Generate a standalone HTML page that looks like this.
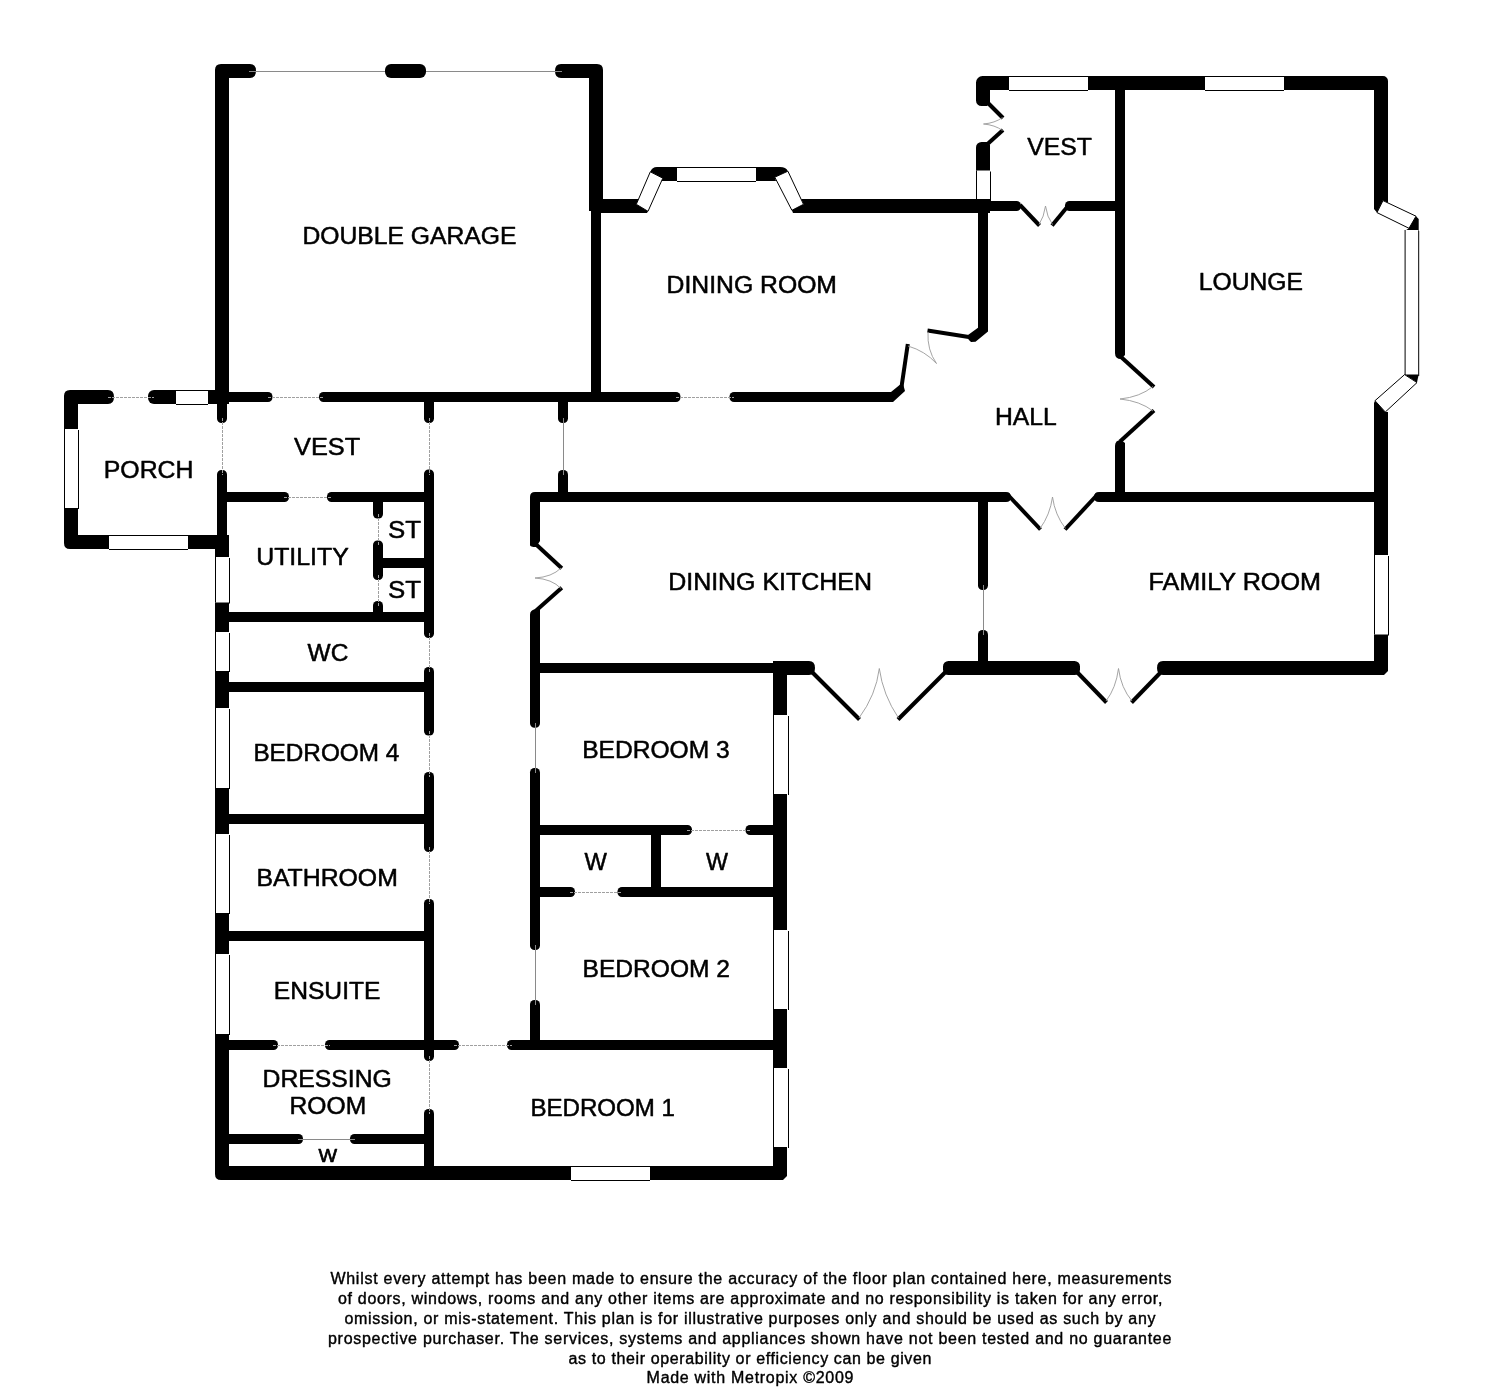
<!DOCTYPE html>
<html><head><meta charset="utf-8"><title>Floor plan</title>
<style>
html,body{margin:0;padding:0;background:#fff;}
body{width:1500px;height:1394px;overflow:hidden;font-family:"Liberation Sans",sans-serif;}
svg{display:block;will-change:transform;}
svg text{font-family:"Liberation Sans",sans-serif;fill:#000;}
</style></head>
<body>
<svg width="1500" height="1394" viewBox="0 0 1500 1394">
<rect x="0" y="0" width="1500" height="1394" fill="#fff"/>
<g id="plan" shape-rendering="geometricPrecision">
<path d="M215,404 L215,70 Q215,64 221,64 L250,64 Q256,64 256,71 Q256,78 250,78 L229,78 L229,404Z" fill="#000"/>
<path d="M391,64 L420,64 A6,6 0 0 1 426,70 L426,72 A6,6 0 0 1 420,78 L391,78 A6,6 0 0 1 385,72 L385,70 A6,6 0 0 1 391,64Z" fill="#000"/>
<path d="M603,211 L603,70 Q603,64 597,64 L561,64 Q555,64 555,71 Q555,78 561,78 L589,78 L589,211Z" fill="#000"/>
<rect x="591" y="205" width="10" height="192" fill="#000"/>
<path d="M225,392 L268,392 A4.5,4.5 0 0 1 272.5,396.5 L272.5,397.5 A4.5,4.5 0 0 1 268,402 L225,402Z" fill="#000"/>
<path d="M323.5,392 L676,392 A4.5,4.5 0 0 1 680.5,396.5 L680.5,397.5 A4.5,4.5 0 0 1 676,402 L323.5,402 A4.5,4.5 0 0 1 319,397.5 L319,396.5 A4.5,4.5 0 0 1 323.5,392Z" fill="#000"/>
<path d="M734,392 L890,392 L890,402 L734,402 A4.5,4.5 0 0 1 729.5,397.5 L729.5,396.5 A4.5,4.5 0 0 1 734,392Z" fill="#000"/>
<polygon points="888,392 891,392 899.6,385 903.4,385.2 905,391 893,402 888,402" fill="#000"/>
<path d="M64,549 L64,396 Q64,390 70,390 L108,390 Q114,390 114,397 Q114,404 108,404 L78,404 L78,535 L229,535 L229,549 L70,549 Q64,549 64,543Z" fill="#000"/>
<path d="M154,390 L218,390 L218,404 L154,404 A6,6 0 0 1 148,398 L148,396 A6,6 0 0 1 154,390Z" fill="#000"/>
<rect x="176" y="390" width="32" height="14" fill="#fff"/>
<line x1="176" y1="390.5" x2="208" y2="390.5" stroke="#000" stroke-width="1"/>
<line x1="176" y1="404.5" x2="208" y2="404.5" stroke="#000" stroke-width="1"/>
<rect x="64" y="429" width="14" height="79" fill="#fff"/>
<line x1="64.5" y1="429" x2="64.5" y2="508" stroke="#000" stroke-width="1"/>
<line x1="78.5" y1="430" x2="78.5" y2="509" stroke="#000" stroke-width="1"/>
<rect x="109" y="535" width="79" height="14" fill="#fff"/>
<line x1="109" y1="535.5" x2="188" y2="535.5" stroke="#000" stroke-width="1"/>
<line x1="109" y1="549.5" x2="188" y2="549.5" stroke="#000" stroke-width="1"/>
<path d="M217,400 L227,400 L227,418.5 A4.5,4.5 0 0 1 222.5,423 L221.5,423 A4.5,4.5 0 0 1 217,418.5Z" fill="#000"/>
<path d="M217,474.5 A4.5,4.5 0 0 1 221.5,470 L222.5,470 A4.5,4.5 0 0 1 227,474.5 L227,540 L217,540Z" fill="#000"/>
<path d="M215,538 L229,538 L229,1166 L773,1166 L773,1180 L221,1180 Q215,1180 215,1174Z" fill="#000"/>
<rect x="215" y="557" width="14" height="45.5" fill="#fff"/>
<line x1="215.5" y1="557" x2="215.5" y2="602.5" stroke="#000" stroke-width="1"/>
<line x1="229.5" y1="558" x2="229.5" y2="603.5" stroke="#000" stroke-width="1"/>
<rect x="215" y="632" width="14" height="39" fill="#fff"/>
<line x1="215.5" y1="632" x2="215.5" y2="671" stroke="#000" stroke-width="1"/>
<line x1="229.5" y1="633" x2="229.5" y2="672" stroke="#000" stroke-width="1"/>
<rect x="215" y="708" width="14" height="80" fill="#fff"/>
<line x1="215.5" y1="708" x2="215.5" y2="788" stroke="#000" stroke-width="1"/>
<line x1="229.5" y1="709" x2="229.5" y2="789" stroke="#000" stroke-width="1"/>
<rect x="215" y="834" width="14" height="79" fill="#fff"/>
<line x1="215.5" y1="834" x2="215.5" y2="913" stroke="#000" stroke-width="1"/>
<line x1="229.5" y1="835" x2="229.5" y2="914" stroke="#000" stroke-width="1"/>
<rect x="215" y="954" width="14" height="80" fill="#fff"/>
<line x1="215.5" y1="954" x2="215.5" y2="1034" stroke="#000" stroke-width="1"/>
<line x1="229.5" y1="955" x2="229.5" y2="1035" stroke="#000" stroke-width="1"/>
<rect x="571" y="1166" width="79" height="14" fill="#fff"/>
<line x1="571" y1="1166.5" x2="650" y2="1166.5" stroke="#000" stroke-width="1"/>
<line x1="571" y1="1180.5" x2="650" y2="1180.5" stroke="#000" stroke-width="1"/>
<path d="M773,661 L787,661 L787,1176 L783,1180 L773,1180Z" fill="#000"/>
<rect x="773" y="715" width="15" height="79" fill="#fff"/>
<line x1="773.5" y1="715" x2="773.5" y2="794" stroke="#000" stroke-width="1"/>
<line x1="788.5" y1="716" x2="788.5" y2="795" stroke="#000" stroke-width="1"/>
<rect x="773" y="930" width="15" height="79" fill="#fff"/>
<line x1="773.5" y1="930" x2="773.5" y2="1009" stroke="#000" stroke-width="1"/>
<line x1="788.5" y1="931" x2="788.5" y2="1010" stroke="#000" stroke-width="1"/>
<rect x="773" y="1068" width="15" height="79" fill="#fff"/>
<line x1="773.5" y1="1068" x2="773.5" y2="1147" stroke="#000" stroke-width="1"/>
<line x1="788.5" y1="1069" x2="788.5" y2="1148" stroke="#000" stroke-width="1"/>
<path d="M227,492 L284.5,492 A4.5,4.5 0 0 1 289,496.5 L289,497.5 A4.5,4.5 0 0 1 284.5,502 L227,502Z" fill="#000"/>
<path d="M331.5,492 L426,492 L426,502 L331.5,502 A4.5,4.5 0 0 1 327,497.5 L327,496.5 A4.5,4.5 0 0 1 331.5,492Z" fill="#000"/>
<rect x="380" y="558" width="46" height="10" fill="#000"/>
<rect x="229" y="612" width="197" height="10" fill="#000"/>
<rect x="229" y="682" width="197" height="10" fill="#000"/>
<rect x="229" y="814" width="197" height="10" fill="#000"/>
<rect x="229" y="931" width="197" height="10" fill="#000"/>
<path d="M229,1040 L273.5,1040 A4.5,4.5 0 0 1 278,1044.5 L278,1045.5 A4.5,4.5 0 0 1 273.5,1050 L229,1050Z" fill="#000"/>
<path d="M329.5,1040 L454.5,1040 A4.5,4.5 0 0 1 459,1044.5 L459,1045.5 A4.5,4.5 0 0 1 454.5,1050 L329.5,1050 A4.5,4.5 0 0 1 325,1045.5 L325,1044.5 A4.5,4.5 0 0 1 329.5,1040Z" fill="#000"/>
<path d="M511.5,1040 L774,1040 L774,1050 L511.5,1050 A4.5,4.5 0 0 1 507,1045.5 L507,1044.5 A4.5,4.5 0 0 1 511.5,1040Z" fill="#000"/>
<path d="M229,1134 L298.5,1134 A4.5,4.5 0 0 1 303,1138.5 L303,1139.5 A4.5,4.5 0 0 1 298.5,1144 L229,1144Z" fill="#000"/>
<path d="M354.5,1134 L426,1134 L426,1144 L354.5,1144 A4.5,4.5 0 0 1 350,1139.5 L350,1138.5 A4.5,4.5 0 0 1 354.5,1134Z" fill="#000"/>
<path d="M424,400 L434,400 L434,418.5 A4.5,4.5 0 0 1 429.5,423 L428.5,423 A4.5,4.5 0 0 1 424,418.5Z" fill="#000"/>
<path d="M424,474 A4.5,4.5 0 0 1 428.5,469.5 L429.5,469.5 A4.5,4.5 0 0 1 434,474 L434,633.5 A4.5,4.5 0 0 1 429.5,638 L428.5,638 A4.5,4.5 0 0 1 424,633.5Z" fill="#000"/>
<path d="M424,671.5 A4.5,4.5 0 0 1 428.5,667 L429.5,667 A4.5,4.5 0 0 1 434,671.5 L434,731 A4.5,4.5 0 0 1 429.5,735.5 L428.5,735.5 A4.5,4.5 0 0 1 424,731Z" fill="#000"/>
<path d="M424,776.5 A4.5,4.5 0 0 1 428.5,772 L429.5,772 A4.5,4.5 0 0 1 434,776.5 L434,847.5 A4.5,4.5 0 0 1 429.5,852 L428.5,852 A4.5,4.5 0 0 1 424,847.5Z" fill="#000"/>
<path d="M424,903.5 A4.5,4.5 0 0 1 428.5,899 L429.5,899 A4.5,4.5 0 0 1 434,903.5 L434,1056.5 A4.5,4.5 0 0 1 429.5,1061 L428.5,1061 A4.5,4.5 0 0 1 424,1056.5Z" fill="#000"/>
<path d="M424,1113.5 A4.5,4.5 0 0 1 428.5,1109 L429.5,1109 A4.5,4.5 0 0 1 434,1113.5 L434,1168 L424,1168Z" fill="#000"/>
<path d="M558,400 L568,400 L568,418.5 A4.5,4.5 0 0 1 563.5,423 L562.5,423 A4.5,4.5 0 0 1 558,418.5Z" fill="#000"/>
<path d="M558,474.5 A4.5,4.5 0 0 1 562.5,470 L563.5,470 A4.5,4.5 0 0 1 568,474.5 L568,494 L558,494Z" fill="#000"/>
<path d="M373,500 L383,500 L383,514 A4.5,4.5 0 0 1 378.5,518.5 L377.5,518.5 A4.5,4.5 0 0 1 373,514Z" fill="#000"/>
<path d="M373,545 A4.5,4.5 0 0 1 377.5,540.5 L378.5,540.5 A4.5,4.5 0 0 1 383,545 L383,575.5 A4.5,4.5 0 0 1 378.5,580 L377.5,580 A4.5,4.5 0 0 1 373,575.5Z" fill="#000"/>
<path d="M373,605.5 A4.5,4.5 0 0 1 377.5,601 L378.5,601 A4.5,4.5 0 0 1 383,605.5 L383,614 L373,614Z" fill="#000"/>
<path d="M530,545 L530,497 Q530,492 535,492 L1006,492 Q1011,492 1011,497 Q1011,502 1006,502 L540,502 L540,541 L536,547 Q530,547 530,545Z" fill="#000"/>
<path d="M530,615 Q530,609.5 535.5,609.5 L540,608 L540,723.2 A4.5,4.5 0 0 1 535.5,727.7 L534.5,727.7 A4.5,4.5 0 0 1 530,723.2Z" fill="#000"/>
<path d="M530,772.5 A4.5,4.5 0 0 1 534.5,768 L535.5,768 A4.5,4.5 0 0 1 540,772.5 L540,945.5 A4.5,4.5 0 0 1 535.5,950 L534.5,950 A4.5,4.5 0 0 1 530,945.5Z" fill="#000"/>
<path d="M530,1004.5 A4.5,4.5 0 0 1 534.5,1000 L535.5,1000 A4.5,4.5 0 0 1 540,1004.5 L540,1042 L530,1042Z" fill="#000"/>
<rect x="538" y="663" width="237" height="10" fill="#000"/>
<path d="M538,825 L687.5,825 A4.5,4.5 0 0 1 692,829.5 L692,830.5 A4.5,4.5 0 0 1 687.5,835 L538,835Z" fill="#000"/>
<path d="M750,825 L775,825 L775,835 L750,835 A4.5,4.5 0 0 1 745.5,830.5 L745.5,829.5 A4.5,4.5 0 0 1 750,825Z" fill="#000"/>
<path d="M538,887 L570.5,887 A4.5,4.5 0 0 1 575,891.5 L575,892.5 A4.5,4.5 0 0 1 570.5,897 L538,897Z" fill="#000"/>
<path d="M622,887 L775,887 L775,897 L622,897 A4.5,4.5 0 0 1 617.5,892.5 L617.5,891.5 A4.5,4.5 0 0 1 622,887Z" fill="#000"/>
<rect x="651" y="833" width="10" height="56" fill="#000"/>
<path d="M1094,497 Q1094,492 1099,492 L1376,492 L1376,502 L1099,502 Q1094,502 1094,497Z" fill="#000"/>
<path d="M978,500 L988,500 L988,585.5 A4.5,4.5 0 0 1 983.5,590 L982.5,590 A4.5,4.5 0 0 1 978,585.5Z" fill="#000"/>
<path d="M978,634.5 A4.5,4.5 0 0 1 982.5,630 L983.5,630 A4.5,4.5 0 0 1 988,634.5 L988,663 L978,663Z" fill="#000"/>
<path d="M773,661 L809,661 Q815,661 815,668 Q815,675 809,675 L773,675Z" fill="#000"/>
<path d="M948.5,661 L1074.5,661 A5.5,5.5 0 0 1 1080,666.5 L1080,669.5 A5.5,5.5 0 0 1 1074.5,675 L948.5,675 A5.5,5.5 0 0 1 943,669.5 L943,666.5 A5.5,5.5 0 0 1 948.5,661Z" fill="#000"/>
<path d="M1157,668 Q1157,661 1163,661 L1388,661 L1388,671 L1384,675 L1163,675 Q1157,675 1157,668Z" fill="#000"/>
<path d="M976,100.5 L976,82.5 A6.5,6.5 0 0 1 982.5,76 L1383,76 A5,5 0 0 1 1388,81 L1388,203 L1383,200.6 L1377,212.6 L1374,209 L1374,90 L990,90 L990,103 L987,106 L981.5,106 A5.5,5.5 0 0 1 976,100.5Z" fill="#000"/>
<rect x="1009" y="76" width="79" height="14" fill="#fff"/>
<line x1="1009" y1="76.5" x2="1088" y2="76.5" stroke="#000" stroke-width="1"/>
<line x1="1009" y1="90.5" x2="1088" y2="90.5" stroke="#000" stroke-width="1"/>
<rect x="1205" y="76" width="79" height="14" fill="#fff"/>
<line x1="1205" y1="76.5" x2="1284" y2="76.5" stroke="#000" stroke-width="1"/>
<line x1="1205" y1="90.5" x2="1284" y2="90.5" stroke="#000" stroke-width="1"/>
<path d="M976,147.5 A5.5,5.5 0 0 1 981.5,142 L987,142 L990,145 L990,201 L976,201Z" fill="#000"/>
<rect x="976" y="170.5" width="14" height="30" fill="#fff"/>
<line x1="976.5" y1="170.5" x2="976.5" y2="200.5" stroke="#000" stroke-width="1"/>
<line x1="990.5" y1="171.5" x2="990.5" y2="201.5" stroke="#000" stroke-width="1"/>
<polygon points="1374,403 1375,400.7 1385.3,412 1388,412 1388,662 1374,662" fill="#000"/>
<rect x="1374" y="555" width="14" height="79.5" fill="#fff"/>
<line x1="1374.5" y1="555" x2="1374.5" y2="634.5" stroke="#000" stroke-width="1"/>
<line x1="1388.5" y1="556" x2="1388.5" y2="635.5" stroke="#000" stroke-width="1"/>
<path d="M1115,88 L1125,88 L1125,355 L1121,359 Q1115,359 1115,353Z" fill="#000"/>
<path d="M1115,446 Q1115,440 1121,440 L1125,443 L1125,494 L1115,494Z" fill="#000"/>
<polygon points="601,199 639,199 636.3,204.3 648,211.3 647,213 601,213" fill="#000"/>
<polygon points="801,199 990,199 990,213 793,213 791.9,210.3 803.5,204.3" fill="#000"/>
<path d="M650.3,171.8 Q652,167 657,167 L677,167 L677,181 L661,181 L662.8,178.2Z" fill="#000"/>
<path d="M756,167 L780,167 Q786,167 787.9,171.2 L774.8,177.2 L776,181 L756,181Z" fill="#000"/>
<rect x="677" y="167" width="79" height="14" fill="#fff"/>
<line x1="677" y1="167.5" x2="756" y2="167.5" stroke="#000" stroke-width="1"/>
<line x1="677" y1="181.5" x2="756" y2="181.5" stroke="#000" stroke-width="1"/>
<polygon points="636.3,204.3 648,211.3 662.8,178.2 650.3,171.8" fill="#fff" stroke="#000" stroke-width="1"/>
<polygon points="774.8,177.2 787.9,171.2 803.5,204.3 791.9,210.3" fill="#fff" stroke="#000" stroke-width="1"/>
<polygon points="978,211 988,211 988,331.5 975.5,341.8 971,342 968.5,339.5 968,335 978,327.8" fill="#000"/>
<path d="M986,201 L1016.5,201 A4.5,4.5 0 0 1 1021,205.5 L1021,206.5 A4.5,4.5 0 0 1 1016.5,211 L986,211Z" fill="#000"/>
<path d="M1069.5,201 L1117,201 L1117,211 L1069.5,211 A4.5,4.5 0 0 1 1065,206.5 L1065,205.5 A4.5,4.5 0 0 1 1069.5,201Z" fill="#000"/>
<polygon points="1383,200.6 1416,216.2 1409,228.3 1377,212.6" fill="#fff" stroke="#000" stroke-width="1"/>
<polygon points="1416,216.2 1418.7,219 1418.7,231 1404.6,231 1409,228.3" fill="#000"/>
<rect x="1404.6" y="230" width="13.6" height="145" fill="#fff"/>
<line x1="1405.1" y1="230" x2="1405.1" y2="375" stroke="#000" stroke-width="1"/>
<line x1="1418.7" y1="231" x2="1418.7" y2="376" stroke="#000" stroke-width="1"/>
<polygon points="1404.6,374.6 1418.7,374.6 1417,382.6" fill="#000"/>
<polygon points="1404.6,374.6 1417,382.6 1385.3,412 1375,400.7" fill="#fff" stroke="#000" stroke-width="1"/>
<line x1="534" y1="542.5" x2="561.8" y2="568.3" stroke="#000" stroke-width="4" stroke-linecap="butt"/>
<line x1="561.8" y1="587.7" x2="534.5" y2="612" stroke="#000" stroke-width="4" stroke-linecap="butt"/>
<path d="M561,568 Q552,577 535,578" fill="none" stroke="#9a9a9a" stroke-width="0.9"/>
<path d="M561,588.5 Q552,579 535,578" fill="none" stroke="#9a9a9a" stroke-width="0.9"/>
<line x1="987" y1="102" x2="1003" y2="118" stroke="#000" stroke-width="4" stroke-linecap="butt"/>
<line x1="1003" y1="130" x2="987" y2="144.5" stroke="#000" stroke-width="4" stroke-linecap="butt"/>
<path d="M1002.5,117.5 Q995,123 983.5,124" fill="none" stroke="#9a9a9a" stroke-width="0.9"/>
<path d="M1002.5,130.5 Q995,125 983.5,124" fill="none" stroke="#9a9a9a" stroke-width="0.9"/>
<line x1="1020" y1="205" x2="1039.5" y2="225.5" stroke="#000" stroke-width="4" stroke-linecap="butt"/>
<line x1="1052" y1="225.5" x2="1068" y2="206" stroke="#000" stroke-width="4" stroke-linecap="butt"/>
<path d="M1039,224.5 Q1044,217 1045.5,206" fill="none" stroke="#9a9a9a" stroke-width="0.9"/>
<path d="M1052.5,224.5 Q1047,217 1045.5,206" fill="none" stroke="#9a9a9a" stroke-width="0.9"/>
<line x1="972" y1="337.5" x2="927.5" y2="330.5" stroke="#000" stroke-width="4" stroke-linecap="butt"/>
<line x1="907.8" y1="344" x2="901.5" y2="387" stroke="#000" stroke-width="4" stroke-linecap="butt"/>
<path d="M928,332 Q927,350 936.5,363.5" fill="none" stroke="#9a9a9a" stroke-width="0.9"/>
<path d="M908,346 Q925,351 936.5,363.5" fill="none" stroke="#9a9a9a" stroke-width="0.9"/>
<line x1="1120" y1="356" x2="1154" y2="387" stroke="#000" stroke-width="4" stroke-linecap="butt"/>
<line x1="1154" y1="410.5" x2="1120" y2="441.5" stroke="#000" stroke-width="4" stroke-linecap="butt"/>
<path d="M1153,386.5 Q1140,397 1120,399" fill="none" stroke="#9a9a9a" stroke-width="0.9"/>
<path d="M1153,411 Q1140,401 1120,399" fill="none" stroke="#9a9a9a" stroke-width="0.9"/>
<line x1="1009" y1="496" x2="1040.5" y2="529.5" stroke="#000" stroke-width="4" stroke-linecap="butt"/>
<line x1="1065" y1="529.5" x2="1097" y2="495" stroke="#000" stroke-width="4" stroke-linecap="butt"/>
<path d="M1040,528.5 Q1050,515 1052.5,497" fill="none" stroke="#9a9a9a" stroke-width="0.9"/>
<path d="M1065.5,528.5 Q1055,515 1052.5,497" fill="none" stroke="#9a9a9a" stroke-width="0.9"/>
<line x1="811" y1="671" x2="859.5" y2="719.5" stroke="#000" stroke-width="4" stroke-linecap="butt"/>
<line x1="898" y1="719.5" x2="947" y2="670.5" stroke="#000" stroke-width="4" stroke-linecap="butt"/>
<path d="M859,718 Q876,695 879.3,668.5" fill="none" stroke="#9a9a9a" stroke-width="0.9"/>
<path d="M898.5,718 Q883,695 879.3,668.5" fill="none" stroke="#9a9a9a" stroke-width="0.9"/>
<line x1="1076.5" y1="671.5" x2="1106.5" y2="702.5" stroke="#000" stroke-width="4" stroke-linecap="butt"/>
<line x1="1131.5" y1="702.5" x2="1161.5" y2="671.5" stroke="#000" stroke-width="4" stroke-linecap="butt"/>
<path d="M1106,701 Q1116,688 1118.5,668.5" fill="none" stroke="#9a9a9a" stroke-width="0.9"/>
<path d="M1132,701 Q1121,688 1118.5,668.5" fill="none" stroke="#9a9a9a" stroke-width="0.9"/>
</g>
<g id="openings" shape-rendering="crispEdges">
<line x1="249" y1="71.5" x2="385" y2="71.5" stroke="#8a8a8a" stroke-width="1"/>
<line x1="426" y1="71.5" x2="562" y2="71.5" stroke="#8a8a8a" stroke-width="1"/>
<line x1="108" y1="397.5" x2="154" y2="397.5" stroke="#a0a0a0" stroke-width="1" stroke-dasharray="3 1"/>
<line x1="268" y1="397.5" x2="324" y2="397.5" stroke="#a0a0a0" stroke-width="1" stroke-dasharray="3 1"/>
<line x1="676" y1="397.5" x2="734" y2="397.5" stroke="#a0a0a0" stroke-width="1" stroke-dasharray="3 1"/>
<line x1="222.5" y1="418" x2="222.5" y2="475" stroke="#a0a0a0" stroke-width="1" stroke-dasharray="3 1"/>
<line x1="429.5" y1="418" x2="429.5" y2="475" stroke="#a0a0a0" stroke-width="1" stroke-dasharray="3 1"/>
<line x1="563.5" y1="418" x2="563.5" y2="475" stroke="#8a8a8a" stroke-width="1"/>
<line x1="429.5" y1="633" x2="429.5" y2="672" stroke="#a0a0a0" stroke-width="1" stroke-dasharray="3 1"/>
<line x1="429.5" y1="731" x2="429.5" y2="777" stroke="#a0a0a0" stroke-width="1" stroke-dasharray="3 1"/>
<line x1="429.5" y1="847" x2="429.5" y2="904" stroke="#a0a0a0" stroke-width="1" stroke-dasharray="3 1"/>
<line x1="429.5" y1="1056" x2="429.5" y2="1114" stroke="#a0a0a0" stroke-width="1" stroke-dasharray="3 1"/>
<line x1="284" y1="497.5" x2="332" y2="497.5" stroke="#a0a0a0" stroke-width="1" stroke-dasharray="3 1"/>
<line x1="378.5" y1="514" x2="378.5" y2="545" stroke="#a0a0a0" stroke-width="1" stroke-dasharray="3 1"/>
<line x1="378.5" y1="575" x2="378.5" y2="606" stroke="#a0a0a0" stroke-width="1" stroke-dasharray="3 1"/>
<line x1="535.5" y1="723" x2="535.5" y2="773" stroke="#8a8a8a" stroke-width="1"/>
<line x1="535.5" y1="945" x2="535.5" y2="1005" stroke="#8a8a8a" stroke-width="1"/>
<line x1="687" y1="830.5" x2="750" y2="830.5" stroke="#a0a0a0" stroke-width="1" stroke-dasharray="3 1"/>
<line x1="570" y1="892.5" x2="622" y2="892.5" stroke="#a0a0a0" stroke-width="1" stroke-dasharray="3 1"/>
<line x1="273" y1="1045.5" x2="330" y2="1045.5" stroke="#a0a0a0" stroke-width="1" stroke-dasharray="3 1"/>
<line x1="454" y1="1045.5" x2="512" y2="1045.5" stroke="#a0a0a0" stroke-width="1" stroke-dasharray="3 1"/>
<line x1="298" y1="1139.5" x2="355" y2="1139.5" stroke="#8a8a8a" stroke-width="1"/>
<line x1="983.5" y1="585" x2="983.5" y2="635" stroke="#8a8a8a" stroke-width="1"/>
</g>
<g id="labels" stroke="#000" stroke-width="0.5" stroke-linejoin="round">
<text x="302.4" y="243.8" font-size="23" textLength="214" lengthAdjust="spacingAndGlyphs">DOUBLE GARAGE</text>
<text x="103.8" y="477.8" font-size="23" textLength="89.6" lengthAdjust="spacingAndGlyphs">PORCH</text>
<text x="294" y="454.7" font-size="23" textLength="66.2" lengthAdjust="spacingAndGlyphs">VEST</text>
<text x="256.2" y="564.7" font-size="23" textLength="92.6" lengthAdjust="spacingAndGlyphs">UTILITY</text>
<text x="388" y="537.6" font-size="23" textLength="33" lengthAdjust="spacingAndGlyphs">ST</text>
<text x="388" y="597.9" font-size="23" textLength="33" lengthAdjust="spacingAndGlyphs">ST</text>
<text x="307.6" y="660.6" font-size="23" textLength="40.8" lengthAdjust="spacingAndGlyphs">WC</text>
<text x="253.4" y="760.6" font-size="23" textLength="145.8" lengthAdjust="spacingAndGlyphs">BEDROOM 4</text>
<text x="256.4" y="885.8" font-size="23" textLength="141.4" lengthAdjust="spacingAndGlyphs">BATHROOM</text>
<text x="273.8" y="999" font-size="23" textLength="106.6" lengthAdjust="spacingAndGlyphs">ENSUITE</text>
<text x="262.6" y="1087" font-size="23" textLength="129.2" lengthAdjust="spacingAndGlyphs">DRESSING</text>
<text x="289.6" y="1114" font-size="23" textLength="76.6" lengthAdjust="spacingAndGlyphs">ROOM</text>
<text x="318.4" y="1161.6" font-size="18" stroke-width="0.7" textLength="18.6" lengthAdjust="spacingAndGlyphs">W</text>
<text x="530.4" y="1115.6" font-size="23" textLength="144.6" lengthAdjust="spacingAndGlyphs">BEDROOM 1</text>
<text x="582.6" y="977" font-size="23" textLength="147.4" lengthAdjust="spacingAndGlyphs">BEDROOM 2</text>
<text x="582.2" y="757.8" font-size="23" textLength="147.4" lengthAdjust="spacingAndGlyphs">BEDROOM 3</text>
<text x="584.6" y="870" font-size="23" textLength="22.4" lengthAdjust="spacingAndGlyphs">W</text>
<text x="706" y="870" font-size="23" textLength="22" lengthAdjust="spacingAndGlyphs">W</text>
<text x="668.2" y="590.1" font-size="23" textLength="203.8" lengthAdjust="spacingAndGlyphs">DINING KITCHEN</text>
<text x="1148.4" y="589.6" font-size="23" textLength="172.6" lengthAdjust="spacingAndGlyphs">FAMILY ROOM</text>
<text x="995" y="424.5" font-size="23" textLength="61.8" lengthAdjust="spacingAndGlyphs">HALL</text>
<text x="1198.8" y="289.5" font-size="23" textLength="104.2" lengthAdjust="spacingAndGlyphs">LOUNGE</text>
<text x="1027.2" y="154.8" font-size="23" textLength="64.8" lengthAdjust="spacingAndGlyphs">VEST</text>
<text x="666.6" y="292.7" font-size="23" textLength="170.4" lengthAdjust="spacingAndGlyphs">DINING ROOM</text>
</g>
<g id="disclaimer" stroke="#000" stroke-width="0.4" stroke-linejoin="round">
<text x="330.4" y="1284" font-size="16" textLength="841" lengthAdjust="spacing">Whilst every attempt has been made to ensure the accuracy of the floor plan contained here, measurements</text>
<text x="337.9" y="1304" font-size="16" textLength="824.5" lengthAdjust="spacing">of doors, windows, rooms and any other items are approximate and no responsibility is taken for any error,</text>
<text x="344.5" y="1324" font-size="16" textLength="811" lengthAdjust="spacing">omission, or mis-statement. This plan is for illustrative purposes only and should be used as such by any</text>
<text x="328" y="1344" font-size="16" textLength="843.4" lengthAdjust="spacing">prospective purchaser. The services, systems and appliances shown have not been tested and no guarantee</text>
<text x="568.6" y="1363.5" font-size="16" textLength="362.8" lengthAdjust="spacing">as to their operability or efficiency can be given</text>
<text x="646.6" y="1383" font-size="16" textLength="206.8" lengthAdjust="spacing">Made with Metropix ©2009</text>
</g>
</svg>
</body></html>
